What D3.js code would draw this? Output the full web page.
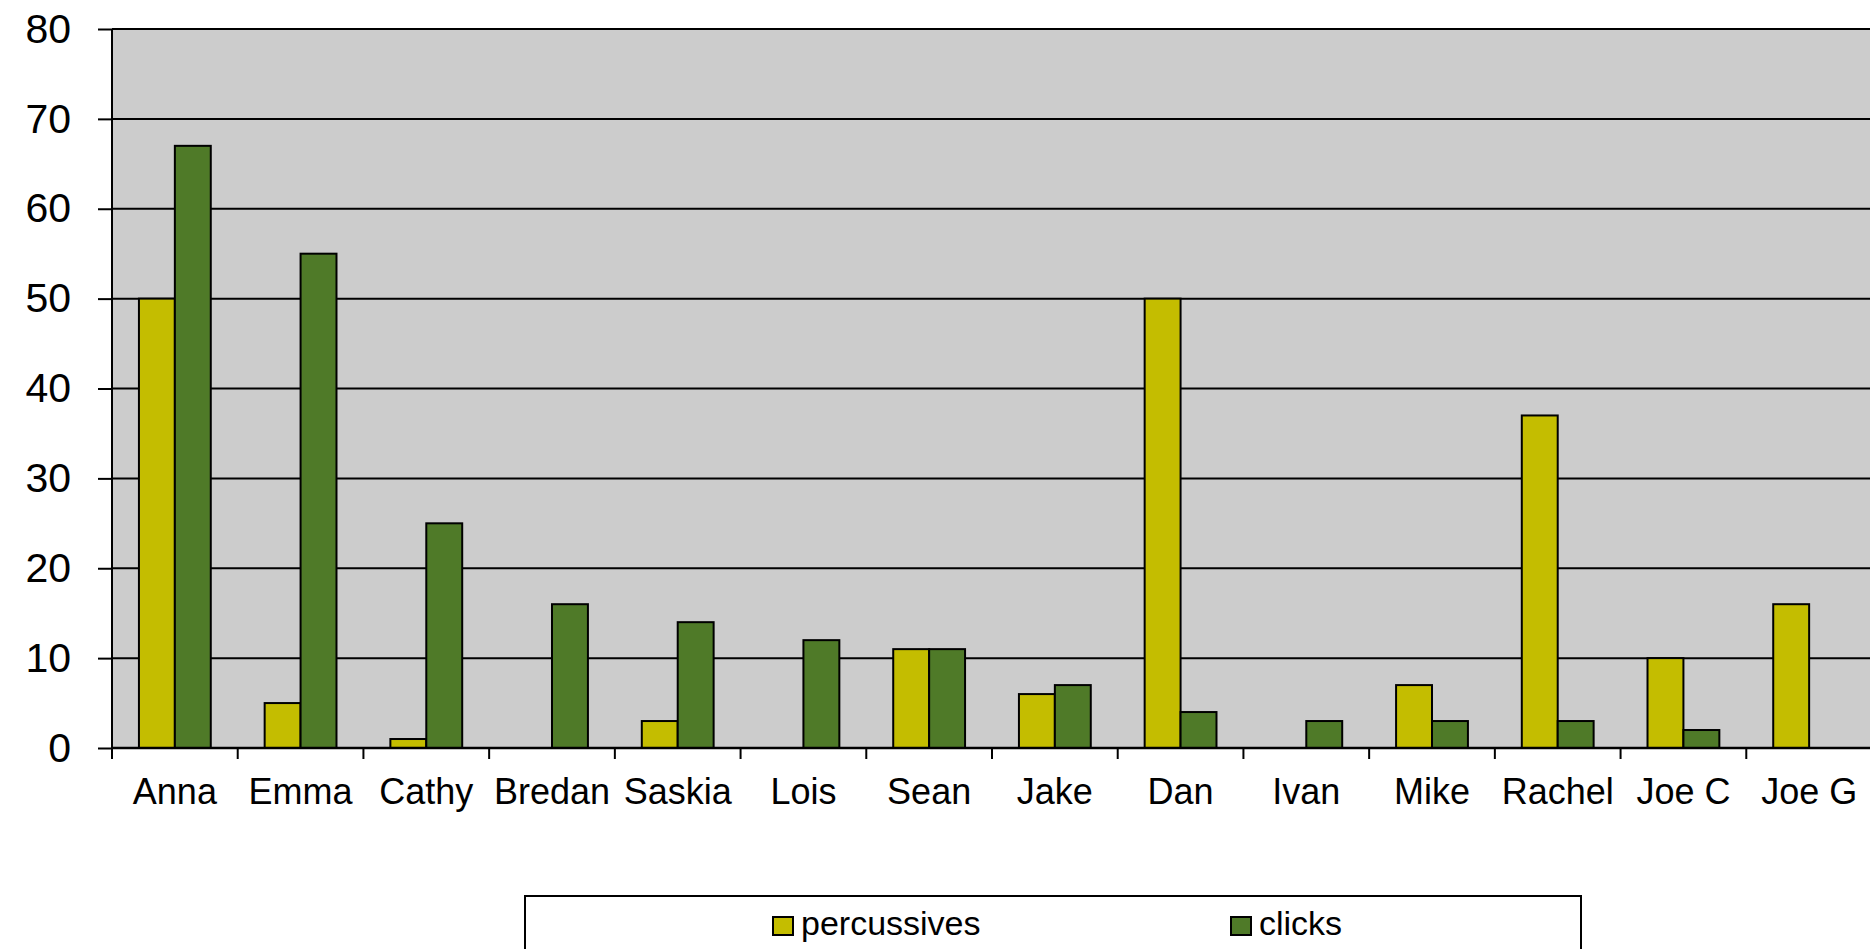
<!DOCTYPE html>
<html>
<head>
<meta charset="utf-8">
<script src="https://cdn.jsdelivr.net/npm/d3@7/dist/d3.min.js"></script>
<style>
  html, body { margin: 0; padding: 0; background: #ffffff; overflow: hidden; }
  svg { display: block; font-family: "Liberation Sans", Arial, sans-serif; }
</style>
</head>
<body>
<svg id="chart" width="1870" height="949"></svg>
<script>
const categories = ["Anna", "Emma", "Cathy", "Bredan", "Saskia", "Lois", "Sean", "Jake", "Dan", "Ivan", "Mike", "Rachel", "Joe C", "Joe G"];
const percussives = [50, 5, 1, 0, 3, 0, 11, 6, 50, 0, 7, 37, 10, 16];
const clicks = [67, 55, 25, 16, 14, 12, 11, 7, 4, 3, 3, 3, 2, 0];
const seriesNames = ["percussives", "clicks"];
const yTicks = [0, 10, 20, 30, 40, 50, 60, 70, 80];

const colors = { percussives: "#C4BD00", clicks: "#4F7A28" };

(function () {
const svg = d3.select("#chart");
const pLeft = 112, pRight = 1872, pTop = 29, pBottom = 748;

const x = d3.scaleBand().domain(categories).range([pLeft, pRight]).paddingInner(0).paddingOuter(0);
const step = x.bandwidth();
const barW = step / 3.5;
const sub = d3.scaleBand().domain(seriesNames).range([0, barW * 2]);
const y = d3.scaleLinear().domain([0, 80]).range([pBottom, pTop]);

// plot background
svg.append("rect")
  .attr("x", pLeft).attr("y", pTop)
  .attr("width", pRight - pLeft).attr("height", pBottom - pTop)
  .attr("fill", "#CCCCCC");

// y ticks and labels
const yAxis = d3.axisLeft(y).tickValues(yTicks).tickSize(14).tickPadding(27).tickFormat(d3.format("d"));
const gy = svg.append("g").attr("transform", `translate(${pLeft},0)`).call(yAxis);
gy.select(".domain").remove();
gy.selectAll(".tick line").attr("stroke", "#000").attr("stroke-width", 2);
gy.selectAll(".tick text").attr("font-size", 41).attr("fill", "#000")
  .attr("font-family", "'Liberation Sans', Arial, sans-serif");

// gridlines
svg.append("g").selectAll("line").data(yTicks).join("line")
  .attr("x1", pLeft).attr("x2", pRight)
  .attr("y1", d => y(d)).attr("y2", d => y(d))
  .attr("stroke", "#000").attr("stroke-width", 2);

// bars
const rows = categories.map((c, i) => ({ cat: c, percussives: percussives[i], clicks: clicks[i] }));
const groups = svg.append("g").selectAll("g").data(rows).join("g")
  .attr("transform", d => `translate(${x(d.cat) + (step - barW * 2) / 2},0)`);
groups.selectAll("rect")
  .data(d => seriesNames.map(s => ({ s, v: d[s] })).filter(e => e.v > 0))
  .join("rect")
  .attr("x", d => sub(d.s))
  .attr("width", sub.bandwidth())
  .attr("y", d => y(d.v))
  .attr("height", d => y(0) - y(d.v))
  .attr("fill", d => colors[d.s])
  .attr("stroke", "#000").attr("stroke-width", 2);

// y axis line
svg.append("line").attr("x1", pLeft).attr("x2", pLeft).attr("y1", pTop).attr("y2", pBottom)
  .attr("stroke", "#000").attr("stroke-width", 2);

// x axis labels
const xAxis = d3.axisBottom(x).tickSize(0).tickPadding(0);
const gx = svg.append("g").attr("transform", `translate(0,${pBottom})`).call(xAxis);
gx.select(".domain").remove();
gx.selectAll(".tick text").attr("font-size", 36).attr("fill", "#000")
  .attr("dy", null).attr("y", 56)
  .attr("font-family", "'Liberation Sans', Arial, sans-serif");

// category separator ticks
const bounds = categories.map(c => x(c)).concat([pRight]);
svg.append("g").selectAll("line").data(bounds).join("line")
  .attr("x1", d => d).attr("x2", d => d)
  .attr("y1", pBottom).attr("y2", pBottom + 11)
  .attr("stroke", "#000").attr("stroke-width", 2);
svg.append("line").attr("x1", pLeft).attr("x2", pRight).attr("y1", pBottom).attr("y2", pBottom)
  .attr("stroke", "#000").attr("stroke-width", 2.5);

// legend
const lg = svg.append("g");
lg.append("rect").attr("x", 525).attr("y", 896).attr("width", 1056).attr("height", 80)
  .attr("fill", "#fff").attr("stroke", "#000").attr("stroke-width", 2);
const legendX = [773, 1231];
seriesNames.forEach((s, i) => {
  lg.append("rect").attr("x", legendX[i]).attr("y", 917).attr("width", 20).attr("height", 18)
    .attr("fill", colors[s]).attr("stroke", "#000").attr("stroke-width", 2);
  lg.append("text").attr("x", legendX[i] + 28).attr("y", 935)
    .attr("font-size", 34).attr("fill", "#000").text(s);
});
})();
</script>
</body>
</html>
